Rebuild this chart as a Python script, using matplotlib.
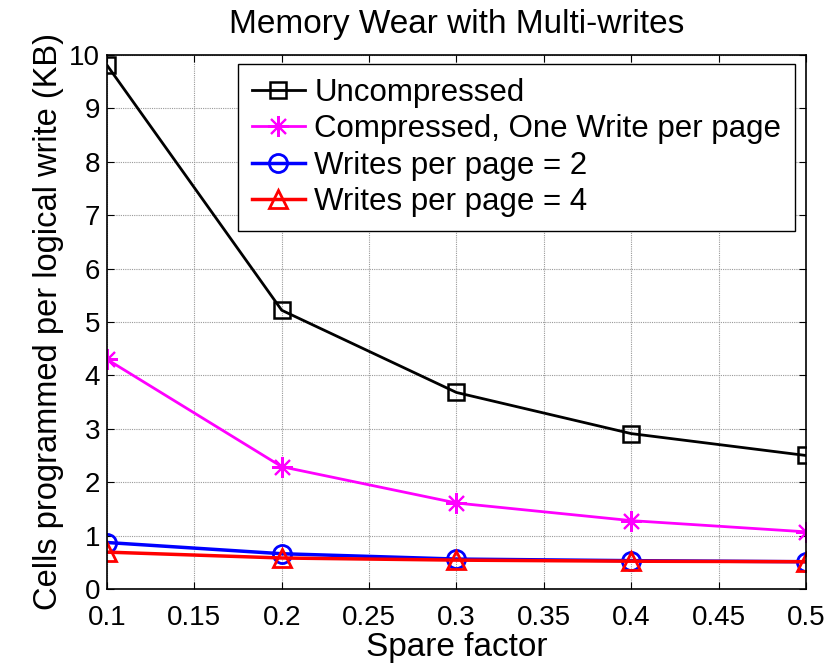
import matplotlib
matplotlib.use('Agg')
import matplotlib.pyplot as plt
import numpy as np

plt.rcParams['font.family'] = ['Liberation Sans', 'DejaVu Sans']

# spare factor on x
spare = [0.1, 0.2, 0.3, 0.4, 0.5]

# cells programmed per logical write (KB)
uncompressed = [9.81, 5.22, 3.68, 2.91, 2.50]
compressed_one = [4.30, 2.29, 1.61, 1.28, 1.07]
writes_2 = [0.87, 0.66, 0.56, 0.53, 0.51]
writes_4 = [0.69, 0.58, 0.54, 0.52, 0.51]

labels = ['Uncompressed', 'Compressed, One Write per page',
          'Writes per page = 2', 'Writes per page = 4']

fig = plt.figure(figsize=(8.36, 6.67), dpi=100)
ax = fig.add_axes([0.128, 0.117, 0.836, 0.8005])

ax.plot(spare, uncompressed, color='black', marker='s', markersize=12,
        markerfacecolor='none', markeredgewidth=1.8, linewidth=2, label=labels[0])
ax.plot(spare, compressed_one, color='magenta', marker=(8, 2, 0), markersize=15,
        markeredgewidth=1.5, linewidth=2, label=labels[1])
ax.plot(spare, writes_2, color='blue', marker='o', markersize=13,
        markerfacecolor='none', markeredgewidth=2, linewidth=2.5, label=labels[2])
ax.plot(spare, writes_4, color='red', marker='^', markersize=13,
        markerfacecolor='none', markeredgewidth=2, linewidth=2.5, label=labels[3])

ax.set_xlim(0.1, 0.5)
ax.set_ylim(0, 10)
ax.set_xticks(np.arange(0.1, 0.501, 0.05))
ax.set_xticklabels(['0.1', '0.15', '0.2', '0.25', '0.3', '0.35', '0.4', '0.45', '0.5'])
ax.set_yticks(range(0, 11))

ax.grid(True, color='#999999', linestyle=(0, (1, 1)), linewidth=0.8)
ax.tick_params(direction='in', length=5, top=True, right=True, labelsize=20)
ax.tick_params(axis='x', pad=11.5)
ax.tick_params(axis='y', pad=5)
for sp in ax.spines.values():
    sp.set_linewidth(1.2)

ax.set_title('Memory Wear with Multi-writes', fontsize=24, pad=16)
ax.set_xlabel('Spare factor', fontsize=24, labelpad=1)
ax.set_ylabel('Cells programmed per logical write (KB)', fontsize=23.5, labelpad=4)

leg = ax.legend(loc='upper right', bbox_to_anchor=(0.985, 0.983), fontsize=22.5,
                frameon=True, fancybox=False, edgecolor='black', framealpha=1,
                handlelength=1.7, handletextpad=0.3, borderpad=0.45, labelspacing=0.2,
                borderaxespad=0)
leg.get_frame().set_linewidth(1.0)

fig.savefig('out.png', dpi=100)
